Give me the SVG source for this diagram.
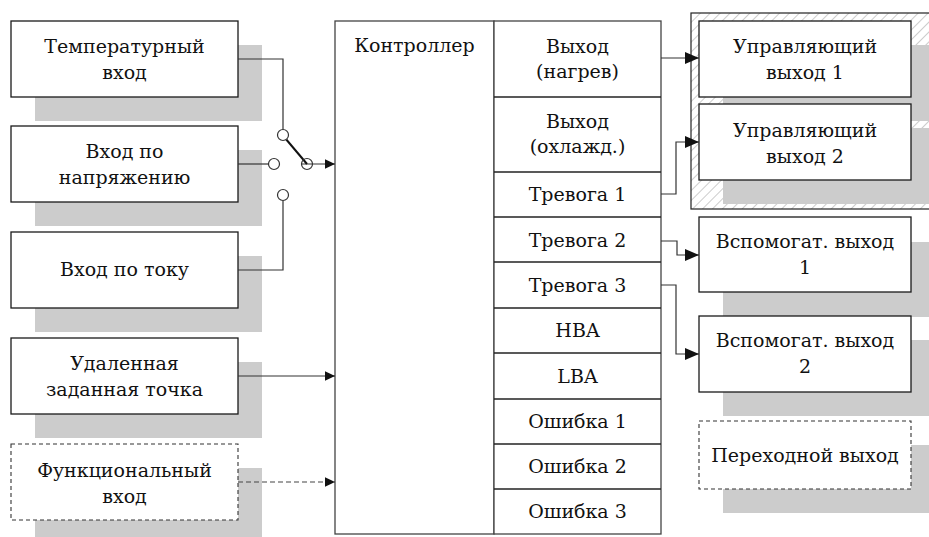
<svg xmlns="http://www.w3.org/2000/svg" width="929" height="537" viewBox="0 0 929 537">
<defs>
<style>
.box{fill:#fff;stroke:#1a1a1a;stroke-width:1.3}
.dbox{fill:#fff;stroke:#333;stroke-width:1.1;stroke-dasharray:4 3}
.sh{fill:#cccccc;stroke:none}
.ctl{fill:#fff;stroke:#444;stroke-width:1.3}
.t{font-family:"DejaVu Serif","Liberation Serif",serif;font-size:19px;fill:#111;text-anchor:middle}
.ln{fill:none;stroke:#333;stroke-width:1.2}
.dl{fill:none;stroke:#444;stroke-width:1.2;stroke-dasharray:5 3}
.cir{fill:#fff;stroke:#333;stroke-width:1.2}
</style>
<marker id="as" markerUnits="userSpaceOnUse" markerWidth="10" markerHeight="10" refX="10" refY="5" orient="auto"><path d="M0,0.3 L10,5 L0,9.7 Z" fill="#111"/></marker>
<marker id="al" markerUnits="userSpaceOnUse" markerWidth="14" markerHeight="13" refX="14" refY="6.5" orient="auto"><path d="M0,0.5 L14,6.5 L0,12.5 Z" fill="#111"/></marker>
<pattern id="hatch" patternUnits="userSpaceOnUse" width="7" height="7" patternTransform="rotate(45)"><line x1="0" y1="0" x2="0" y2="7" stroke="#9a9a9a" stroke-width="1"/></pattern>
</defs>

<g id="output-group">
<rect x="691" y="13" width="250" height="196" fill="url(#hatch)" stroke="#222" stroke-width="1.2"/>
</g>

<g id="temp-input">
<rect class="sh" x="35" y="45" width="227" height="76"/>
<rect class="box" x="11" y="21" width="227" height="76"/>
<text class="t" x="124.5" y="53">Температурный</text>
<text class="t" x="124.5" y="79">вход</text>
</g>
<g id="voltage-input">
<rect class="sh" x="35" y="150" width="227" height="76"/>
<rect class="box" x="11" y="126" width="227" height="76"/>
<text class="t" x="124.5" y="158">Вход по</text>
<text class="t" x="124.5" y="184">напряжению</text>
</g>
<g id="current-input">
<rect class="sh" x="35" y="256" width="227" height="76"/>
<rect class="box" x="11" y="232" width="227" height="76"/>
<text class="t" x="124.5" y="276">Вход по току</text>
</g>
<g id="remote-setpoint">
<rect class="sh" x="35" y="362" width="227" height="76"/>
<rect class="box" x="11" y="338" width="227" height="76"/>
<text class="t" x="124.5" y="370">Удаленная</text>
<text class="t" x="124.5" y="396">заданная точка</text>
</g>
<g id="function-input">
<rect class="sh" x="35" y="468" width="227" height="76"/>
<rect class="dbox" x="11" y="444" width="227" height="76"/>
<text class="t" x="124.5" y="477">Функциональный</text>
<text class="t" x="124.5" y="503">вход</text>
</g>

<g id="controller">
<rect class="ctl" x="335" y="21" width="159" height="513"/>
<text class="t" x="414.5" y="52">Контроллер</text>
</g>
<g id="controller-outputs">
<rect class="ctl" x="494" y="21" width="167" height="513"/>
<g stroke="#222" stroke-width="1.3">
<line x1="494" y1="97" x2="661" y2="97"/>
<line x1="494" y1="172" x2="661" y2="172"/>
<line x1="494" y1="217" x2="661" y2="217"/>
<line x1="494" y1="262" x2="661" y2="262"/>
<line x1="494" y1="308" x2="661" y2="308"/>
<line x1="494" y1="353" x2="661" y2="353"/>
<line x1="494" y1="399" x2="661" y2="399"/>
<line x1="494" y1="444" x2="661" y2="444"/>
<line x1="494" y1="489" x2="661" y2="489"/>
</g>
<text class="t" x="577.5" y="53">Выход</text>
<text class="t" x="577.5" y="78">(нагрев)</text>
<text class="t" x="577.5" y="128">Выход</text>
<text class="t" x="577.5" y="153">(охлажд.)</text>
<text class="t" x="577.5" y="201">Тревога 1</text>
<text class="t" x="577.5" y="247">Тревога 2</text>
<text class="t" x="577.5" y="292">Тревога 3</text>
<text class="t" x="577.5" y="337">HBA</text>
<text class="t" x="577.5" y="383">LBA</text>
<text class="t" x="577.5" y="428">Ошибка 1</text>
<text class="t" x="577.5" y="473">Ошибка 2</text>
<text class="t" x="577.5" y="518">Ошибка 3</text>
</g>

<g id="control-out-1">
<rect class="sh" x="723" y="45" width="212" height="76"/>
<rect class="box" x="699" y="21" width="212" height="76"/>
<text class="t" x="805" y="53">Управляющий</text>
<text class="t" x="805" y="79">выход 1</text>
</g>
<g id="control-out-2">
<rect class="sh" x="723" y="128" width="212" height="76"/>
<rect class="box" x="699" y="104" width="212" height="76"/>
<text class="t" x="805" y="137">Управляющий</text>
<text class="t" x="805" y="163">выход 2</text>
</g>
<g id="aux-out-1">
<rect class="sh" x="723" y="242" width="212" height="75"/>
<rect class="box" x="699" y="217" width="212" height="75"/>
<text class="t" x="805" y="248">Вспомогат. выход</text>
<text class="t" x="805" y="274">1</text>
</g>
<g id="aux-out-2">
<rect class="sh" x="723" y="340" width="212" height="76"/>
<rect class="box" x="699" y="316" width="212" height="76"/>
<text class="t" x="805" y="347">Вспомогат. выход</text>
<text class="t" x="805" y="373">2</text>
</g>
<g id="transition-out">
<rect class="sh" x="723" y="445" width="212" height="68"/>
<rect class="dbox" x="699" y="421" width="212" height="68"/>
<text class="t" x="805" y="462">Переходной выход</text>
</g>

<g id="connectors">
<path class="ln" d="M238,59 H283 V129.5"/>
<path class="ln" d="M238,164 H268.5"/>
<path class="ln" d="M238,270 H283 V200.5"/>
<path class="ln" d="M301.5,164 H335" marker-end="url(#as)"/>
<line x1="286.3" y1="139.5" x2="307" y2="164" stroke="#111" stroke-width="2"/>
<circle class="cir" cx="283" cy="135" r="5.5"/>
<circle class="cir" cx="274" cy="164" r="5.5"/>
<circle class="cir" cx="283" cy="195" r="5.5"/>
<circle cx="307" cy="164" r="5.5" fill="none" stroke="#333" stroke-width="1.2"/>
<path class="ln" d="M238,376 H335" marker-end="url(#as)"/>
<path class="dl" d="M238,482 H335" marker-end="url(#as)"/>
<path class="ln" d="M661,58 H699" marker-end="url(#al)"/>
<path class="ln" d="M661,194 H676 V142 H699" marker-end="url(#al)"/>
<path class="ln" d="M661,241 H677 V255 H699" marker-end="url(#al)"/>
<path class="ln" d="M661,285 H676 V354 H699" marker-end="url(#al)"/>
</g>
</svg>
